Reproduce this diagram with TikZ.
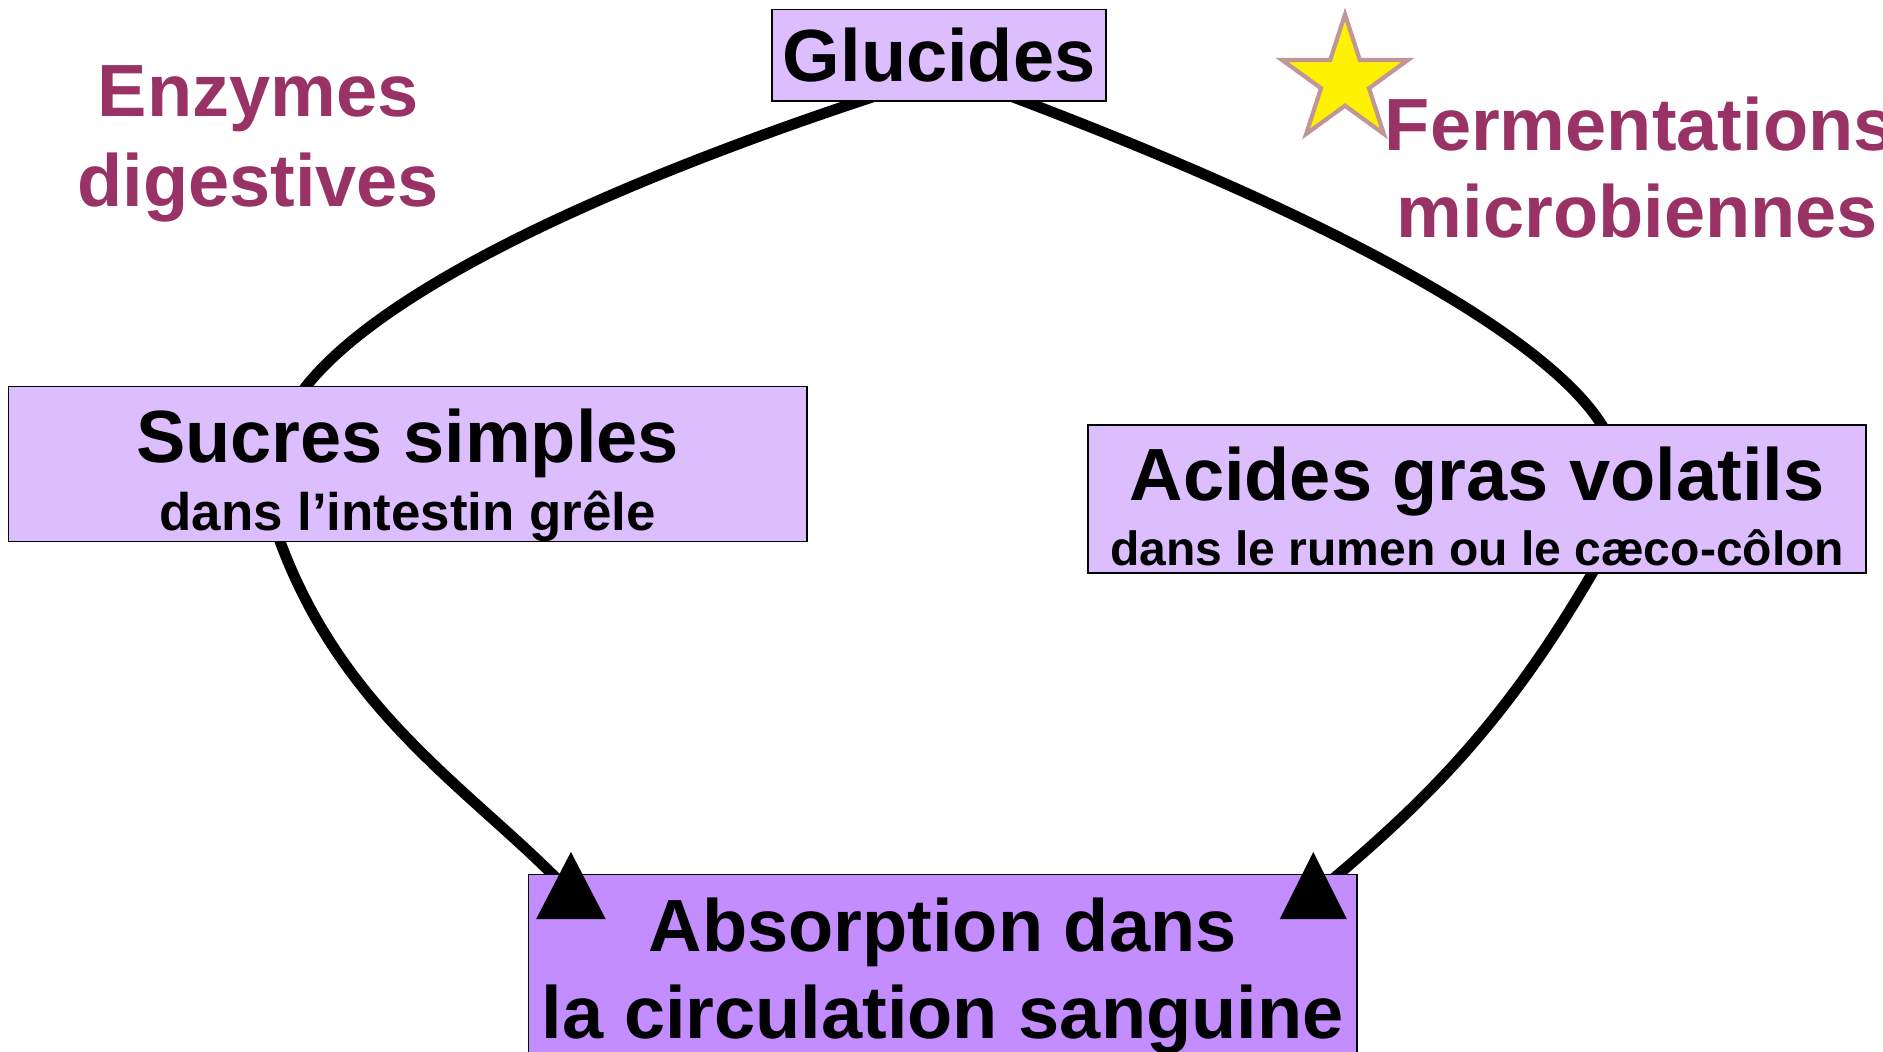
\documentclass[tikz,border=0pt]{standalone}
\usepackage{fontspec}
\setmainfont{Liberation Sans}
\usetikzlibrary{shapes.geometric,calc,backgrounds}
\definecolor{boxlight}{RGB}{220,190,255}
\definecolor{boxdark}{RGB}{195,140,255}
\definecolor{wine}{RGB}{153,51,102}
\definecolor{starline}{RGB}{192,150,150}
\newcommand\TxtBig{\fontsize{61.6pt}{74pt}\selectfont\bfseries}
\newcommand\TxtSubA{\fontsize{44pt}{52pt}\selectfont\bfseries}
\newcommand\TxtSubB{\fontsize{40pt}{48pt}\selectfont\bfseries}
\begin{document}
\begin{tikzpicture}[x=1pt,y=1pt,
  lbox/.style={rectangle, draw=black, line width=1.2pt, fill=boxlight, inner sep=0pt},
  dbox/.style={lbox, fill=boxdark},
  conn/.style={line width=9pt, draw=black},
  tiptri/.style={fill=black},
  lbl/.style={inner sep=0pt, anchor=base, text=black},
  side/.style={inner sep=0pt, anchor=base, text=wine, font=\TxtBig}]
\useasboundingbox (0,0) rectangle (1568,-876);
\clip (0,0) rectangle (1568,-876);
\begin{pgfonlayer}{background}
\fill[white] (0,0) rectangle (1568,-876);
\end{pgfonlayer}

% boxes
\node[lbox, minimum width=278pt, minimum height=76pt, font=\TxtBig] (gluc) at (782,-46) {Glucides};
\node[lbox, minimum width=665pt, minimum height=129pt] (sucres) at (339.5,-386.5) {};
\node[lbox, minimum width=648pt, minimum height=123pt] (acides) at (1230,-415.5) {};
\node[dbox, minimum width=690pt, minimum height=172pt] (absorb) at (785,-814) {};

% box texts
\node[lbl, font=\TxtBig] (sucresA) at (339.5,-385) {Sucres simples};
\node[lbl, font=\TxtSubA] (sucresB) at (339.5,-442) {dans l’intestin grêle};
\node[lbl, font=\TxtBig] (acidesA) at (1230,-417) {Acides gras volatils};
\node[lbl, font=\TxtSubB] (acidesB) at (1230,-471) {dans le rumen ou le cæco-côlon};
\node[lbl, font=\TxtBig] (absA) at (785,-792) {Absorption dans};
\node[lbl, font=\TxtBig] (absB) at (785,-865) {la circulation sanguine};

% side labels
\node[side] (enzA) at (215,-97) {Enzymes};
\node[side] (enzB) at (215,-172) {digestives};
\node[star, star points=5, star point ratio=2.618, minimum size=110pt, inner sep=0pt,
      fill=yellow, draw=starline, line width=3.5pt] (etoile) at (1120,-67) {};
\node[side, anchor=base west] (fermA) at (1153,-125) {Fermentations};
\node[side] (fermB) at (1363.5,-198) {microbiennes};

% connectors
\begin{pgfonlayer}{background}
\draw[conn] ($(gluc.south)+(-55,4)$) .. controls +(-263,-87) and +(54,72) .. ($(sucres.north)+(-87.5,-4)$);
\draw[conn] ($(gluc.south)+(61,4)$) .. controls +(288,-109) and +(-41,71) .. ($(acides.north)+(106,-4)$);
\draw[conn] ($(sucres.south)+(-107.5,4)$) .. controls +(51,-141) and +(-78,78) .. ($(absorb.north west)+(24,-4)$);
\draw[conn] ($(acides.south)+(98,4)$) .. controls +(-70,-121) and +(84,71) .. ($(absorb.north east)+(-20,-4)$);
\end{pgfonlayer}

% arrow tips
\fill[tiptri] ($(absorb.north west)+(36,18)$) -- ($(absorb.north west)+(7,-38)$) -- ($(absorb.north west)+(65,-38)$) -- cycle;
\fill[tiptri] ($(absorb.north east)+(-37,18)$) -- ($(absorb.north east)+(-65,-38)$) -- ($(absorb.north east)+(-9,-38)$) -- cycle;
\end{tikzpicture}
\end{document}
